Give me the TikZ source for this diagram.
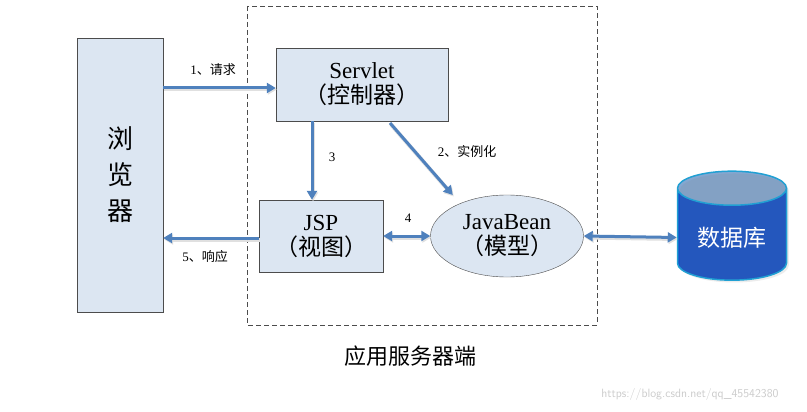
\documentclass[tikz,border=0pt]{standalone}
\usepackage{fontspec}
\setmainfont{Liberation Serif}
\newfontfamily\cjk{Noto Sans CJK SC}
\usetikzlibrary{shapes.geometric,arrows.meta,shadows}
\definecolor{boxfill}{RGB}{220,230,242}
\definecolor{arrblue}{RGB}{79,129,189}
\definecolor{dbblue}{RGB}{20,80,200}
\tikzset{
  box/.style={draw=black!70,fill=boxfill,align=center,font=\fontsize{23}{25}\selectfont},
  flow/.style={draw=arrblue,line width=3pt,-{Triangle[length=9pt,width=10pt]},
    preaction={draw=black!12,line width=4pt,transform canvas={xshift=1pt,yshift=-1.5pt}}},
  both/.style={flow,{Triangle[length=9pt,width=10pt]}-{Triangle[length=9pt,width=10pt]}},
  lbl/.style={font=\fontsize{13}{15}\selectfont}
}
\begin{document}
\begin{tikzpicture}[x=1pt,y=-1pt]
    \useasboundingbox[fill=white] (0,0) rectangle (807,412);
        \draw [black!70,dash pattern={on 5pt off 3pt}] (247,6) rectangle (597,325);
        \node [box,minimum width=86pt,minimum height=274pt,font=\cjk\fontsize{26}{30}\selectfont] (browser) at (120,175) {浏\\[6pt]览\\[6pt]器};
        \node [box,minimum width=172pt,minimum height=73pt,inner sep=1pt] (servlet) at (362,84.5) {Servlet\\{\cjk （控制器）}};
        \node [box,minimum width=124pt,minimum height=72pt,inner sep=1pt] (jsp) at (321,236) {JSP\\{\cjk （视图）}};
        \node [box,ellipse,minimum width=153pt,minimum height=82pt,inner sep=0pt] (bean) at (507,236) {JavaBean\\{\cjk （模型）}};
        \node [cylinder,shape border rotate=90,aspect=0.45,draw=cyan!70!teal,line width=1.5pt,
          cylinder uses custom fill,cylinder body fill=dbblue,cylinder end fill=arrblue!70!white,
          minimum width=109pt,minimum height=109pt,text=white,font=\cjk\fontsize{23}{25}\selectfont,
          drop shadow={opacity=0.15}] (db) at (732,237.5) {数据库};
        \draw [flow] (browser.east |- 0,88) -- (servlet.west |- 0,88);
        \draw [flow] (servlet.south -| 312,0) -- (jsp.north -| 312,0);
        \draw [flow] (390,123) -- (bean.north west |- 0,195) coordinate (b2);
        \draw [both] (jsp.east) -- (bean.west);
        \draw [both] (bean.east) -- (db.west);
        \draw [flow] (jsp.west |- 0,238) -- (browser.east |- 0,238);
        \node [lbl] (l1) at (213,70) {1{\cjk 、请求}};
        \node [lbl] (l5) at (205,257) {5{\cjk 、响应}};
        \node [lbl] (l3) at (332,157) {3};
        \node [lbl] (l2) at (467,152) {2{\cjk 、实例化}};
        \node [lbl] (l4) at (408,218) {4};
        \node [font=\cjk\fontsize{22}{26}\selectfont] (title) at (410,356) {应用服务器端};
        \node [font=\sffamily\fontsize{12}{14}\selectfont,text=black!20] (wm) at (690,394) {https://blog.csdn.net/qq\_45542380};
    \end{tikzpicture}
\end{document}
